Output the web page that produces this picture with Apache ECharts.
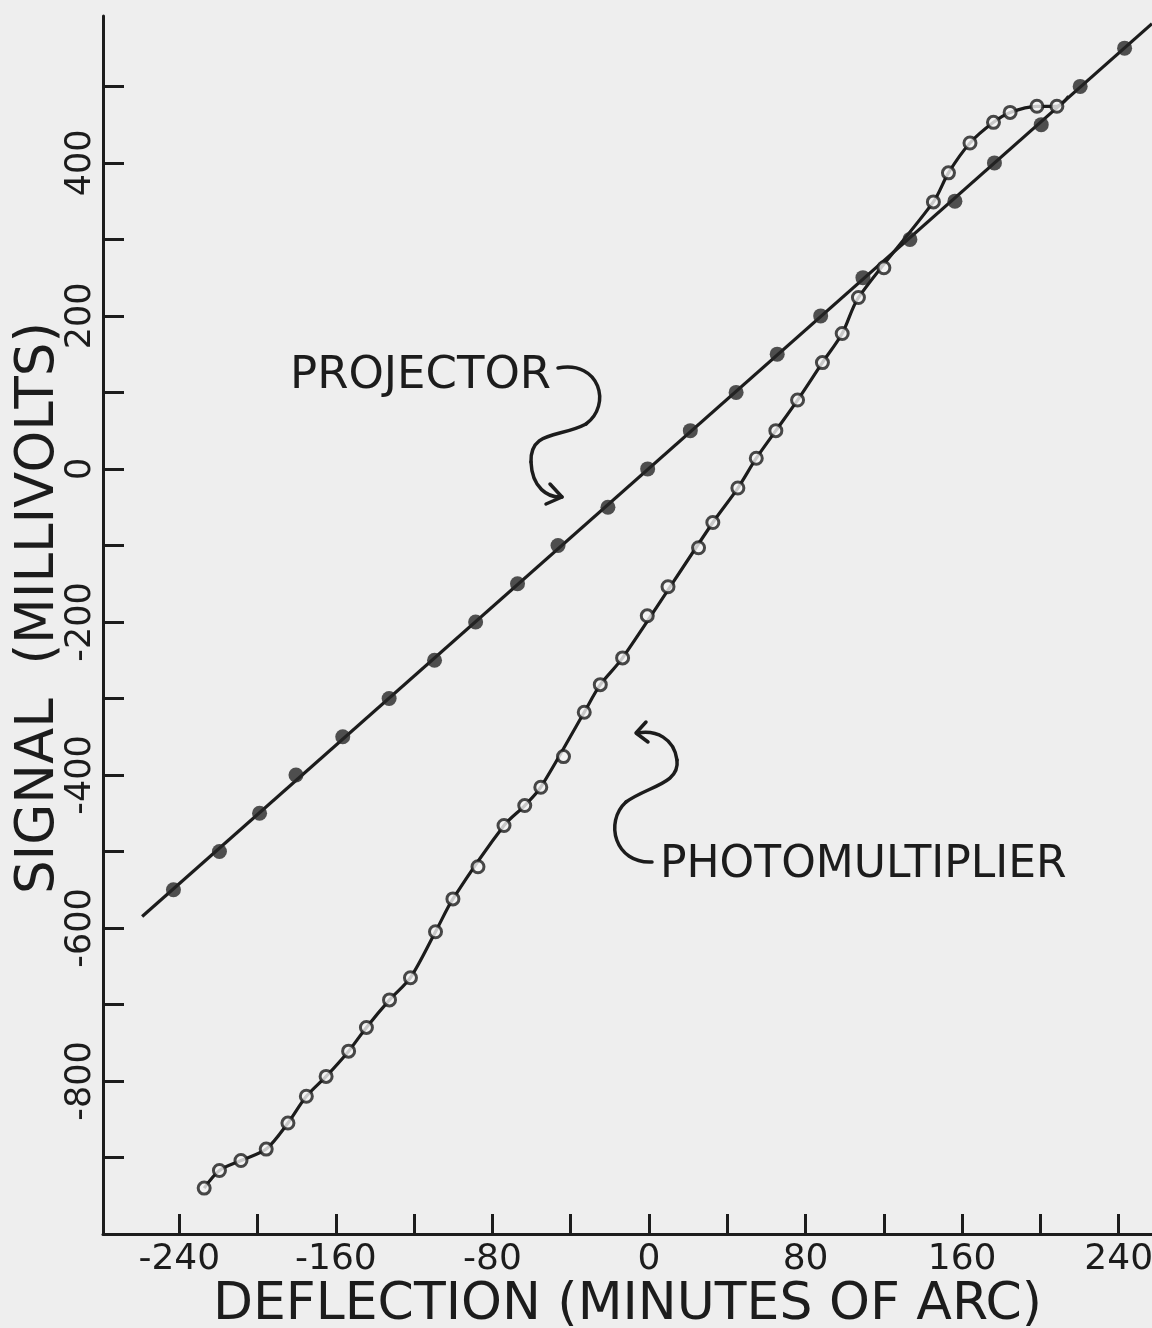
<!DOCTYPE html>
<html>
<head>
<meta charset="utf-8">
<script src="https://cdn.jsdelivr.net/npm/echarts@6/dist/echarts.min.js"></script>
<style>
html,body{margin:0;padding:0;background:#eeeeee;}
#c{width:1152px;height:1328px;}
</style>
</head>
<body>
<div id="c"></div>
<script>
// ---- tick values / labels ----
const xTickValues = [-240,-200,-160,-120,-80,-40,0,40,80,120,160,200,240];
const xTickLabels = [-240,-160,-80,0,80,160,240];
const yTickValues = [-900,-800,-700,-600,-500,-400,-300,-200,-100,0,100,200,300,400,500];
const yTickLabels = [-800,-600,-400,-200,0,200,400];

const xTitle = 'DEFLECTION (MINUTES OF ARC)';
const yTitle = 'SIGNAL  (MILLIVOLTS)';

// ---- PROJECTOR (filled points) ----
const projectorX = [-243,-219.5,-199,-180.4,-156.5,-132.8,-109.6,-88.6,-67.2,-46.5,-21,-0.7,21.1,44.5,65.5,87.7,109.3,133.3,156.3,176.5,200.4,220.3,243];
const projectorY = [-550,-500,-450,-400,-350,-300,-250,-200,-150,-100,-50,0,50,100,150,200,250,300,350,400,450,500,550];
// ends of the drawn (straight) projector line
const projectorLineX = [-259, 257];
const projectorLineY = [-585, 582];

// ---- PHOTOMULTIPLIER (open points) ----
const pmX = [-227.3,-219.5,-208.5,-195.6,-184.5,-175.1,-165,-153.5,-144.4,-132.6,-121.9,-109.1,-100.2,-87.4,-74.1,-63.5,-55.3,-43.7,-33.1,-24.9,-13.5,-0.9,9.7,25.3,32.6,45.4,54.8,64.8,75.9,88.6,98.7,107,120,145.3,153,164,176,184.5,198.2,208.4];
const pmY = [-940,-917,-904,-889,-855,-820,-794,-761,-730,-694,-665,-605,-562,-520,-466,-440,-416,-376,-318,-282,-247,-192,-154,-103,-70,-25,14,50,90,139,177,224,263,349,387,426,453,466,474,474];
// points that the smooth hand-drawn curve passes beside rather than through
const pmOffCurve = [13,17,21,22,23,32];
// where the photomultiplier curve runs into the projector line
const pmCurveEnd = [214.4, 487];

const FONT = 'DejaVu Sans';
const INK = '#1c1c1c';

const projectorPoints = projectorX.map((x, i) => [x, projectorY[i]]);
const projectorLine = projectorLineX.map((x, i) => [x, projectorLineY[i]]);
const pmPoints = pmX.map((x, i) => [x, pmY[i]]);
const pmCurve = pmPoints.filter((p, i) => pmOffCurve.indexOf(i) < 0).concat([pmCurveEnd]);

function bez(a, c1, c2, b) {
  return { type: 'bezierCurve', silent: true,
    shape: { x1: a[0], y1: a[1], cpx1: c1[0], cpy1: c1[1], cpx2: c2[0], cpy2: c2[1], x2: b[0], y2: b[1] },
    style: { stroke: INK, lineWidth: 3.5, fill: null, lineCap: 'round' } };
}
function head(pts) {
  return { type: 'polyline', silent: true, shape: { points: pts },
    style: { stroke: INK, lineWidth: 3.5, fill: null, lineJoin: 'round', lineCap: 'round' } };
}

const chart = echarts.init(document.getElementById('c'));
chart.setOption({
  backgroundColor: '#eeeeee',
  animation: false,
  grid: { left: 103, right: 0, top: 16, bottom: 94, outerBoundsMode: 'none' },
  xAxis: {
    type: 'value', min: -279, max: 257,
    name: xTitle, nameLocation: 'middle', nameGap: 45, nameMoveOverlap: false,
    nameTextStyle: { fontFamily: FONT, fontSize: 52, color: INK },
    axisLine: { show: true, onZero: false, lineStyle: { color: INK, width: 3 } },
    axisTick: { show: true, inside: true, length: 20, customValues: xTickValues, lineStyle: { color: INK, width: 3 } },
    axisLabel: { show: true, customValues: xTickLabels, margin: 8, fontFamily: FONT, fontSize: 36, color: INK,
      formatter: v => String(v) },
    splitLine: { show: false }
  },
  yAxis: {
    type: 'value', min: -1000, max: 592,
    name: yTitle, nameLocation: 'middle', nameGap: 37, nameMoveOverlap: false,
    nameTextStyle: { fontFamily: FONT, fontSize: 53, color: INK, padding: [0, 0, 0, 34] },
    axisLine: { show: true, onZero: false, lineStyle: { color: INK, width: 3 } },
    axisTick: { show: true, inside: true, length: 21, customValues: yTickValues, lineStyle: { color: INK, width: 3 } },
    axisLabel: { show: true, customValues: yTickLabels, rotate: 90, margin: 5, fontFamily: FONT, fontSize: 35, color: INK,
      formatter: v => String(v) },
    splitLine: { show: false }
  },
  series: [
    { name: 'PROJECTOR line', type: 'line', data: projectorLine, showSymbol: false, symbol: 'none',
      lineStyle: { color: INK, width: 3.2 }, z: 2 },
    { name: 'PHOTOMULTIPLIER line', type: 'line', data: pmCurve, showSymbol: false, symbol: 'none', smooth: 0.3,
      lineStyle: { color: INK, width: 3.2 }, z: 2 },
    { name: 'PROJECTOR', type: 'scatter', data: projectorPoints, symbol: 'circle', symbolSize: 15,
      itemStyle: { color: '#262626', borderWidth: 0 }, z: 4 },
    { name: 'PHOTOMULTIPLIER', type: 'scatter', data: pmPoints, symbol: 'circle', symbolSize: 12,
      itemStyle: { color: '#f4f4f4', borderColor: INK, borderWidth: 3 }, z: 5 }
  ],
  graphic: [
    { type: 'text', x: 290, y: 376, silent: true, style: { text: 'PROJECTOR', font: '45px "DejaVu Sans"', fill: INK, verticalAlign: 'middle' } },
    { type: 'text', x: 660, y: 866, silent: true, style: { text: 'PHOTOMULTIPLIER', font: '44px "DejaVu Sans"', fill: INK, verticalAlign: 'middle' } },
    bez([558,368],[600,360],[612,405],[586,424]),
    bez([586,424],[560,438],[530,430],[531,462]),
    bez([531,462],[532,488],[548,498],[562,497]),
    head([[550,484],[562,497],[546,504]]),
    bez([652,862],[615,864],[604,822],[626,802]),
    bez([626,802],[648,786],[680,784],[677,760]),
    bez([677,760],[674,738],[656,730],[638,733]),
    head([[646,722],[636,733],[648,742]])
  ]
});
</script>
</body>
</html>
